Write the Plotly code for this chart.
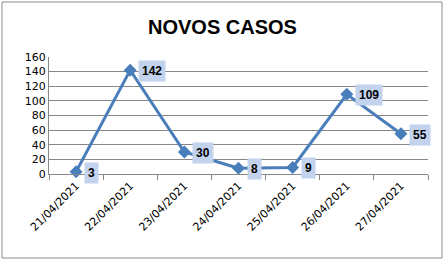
import plotly.graph_objects as go

dates = ["21/04/2021", "22/04/2021", "23/04/2021", "24/04/2021",
         "25/04/2021", "26/04/2021", "27/04/2021"]
cases = [3, 142, 30, 8, 9, 109, 55]
y_ticks = [0, 20, 40, 60, 80, 100, 120, 140, 160]

W, H = 445, 261
L, R, T, B = 49, 17, 57, 87
pw, ph = W - L - R, H - T - B

fig = go.Figure()
fig.add_trace(go.Scatter(
    x=dates, y=cases, mode="lines+markers",
    line=dict(color="#4a7ebb", width=3),
    marker=dict(symbol="diamond", size=10, color="#4a7ebb"),
    cliponaxis=False, hoverinfo="skip",
))

for d, v in zip(dates, cases):
    fig.add_annotation(
        x=d, y=v, text=f"<b>{v}</b>", showarrow=False,
        xanchor="left", yanchor="middle", xshift=8, yshift=-1,
        font=dict(family="Liberation Sans", size=12, color="#000000"),
        bgcolor="#c3d3ee", borderpad=3,
    )

# outer chart border
fig.add_shape(type="rect", xref="paper", yref="paper",
              x0=(2 - L) / pw, x1=(442 - L) / pw,
              y0=(T + ph - 258) / ph, y1=(T + ph - 2) / ph,
              line=dict(color="#8c8c8c", width=1), layer="below")

fig.update_layout(
    width=W, height=H,
    margin=dict(l=L, r=R, t=T, b=B),
    paper_bgcolor="white", plot_bgcolor="white",
    showlegend=False,
    title=dict(text="<b>NOVOS CASOS</b>", x=0.5, xanchor="center",
               y=1 - 27 / H, yanchor="middle", yref="container",
               font=dict(family="Liberation Sans", size=20, color="#000000")),
    xaxis=dict(type="category", range=[-0.5, 6.5], tickson="boundaries",
               ticks="outside", ticklen=5, tickcolor="#868686",
               showgrid=False, showline=True, linecolor="#868686",
               tickangle=-45, tickfont=dict(family="DejaVu Sans", size=11, color="#000000")),
    yaxis=dict(range=[0, 160], tickvals=y_ticks, showgrid=True, gridcolor="#868686",
               gridwidth=1, showline=True, linecolor="#868686", zeroline=False,
               ticks="", ticklen=4,
               tickfont=dict(family="DejaVu Sans", size=11, color="#000000")),
)

fig.write_html("out.html")
